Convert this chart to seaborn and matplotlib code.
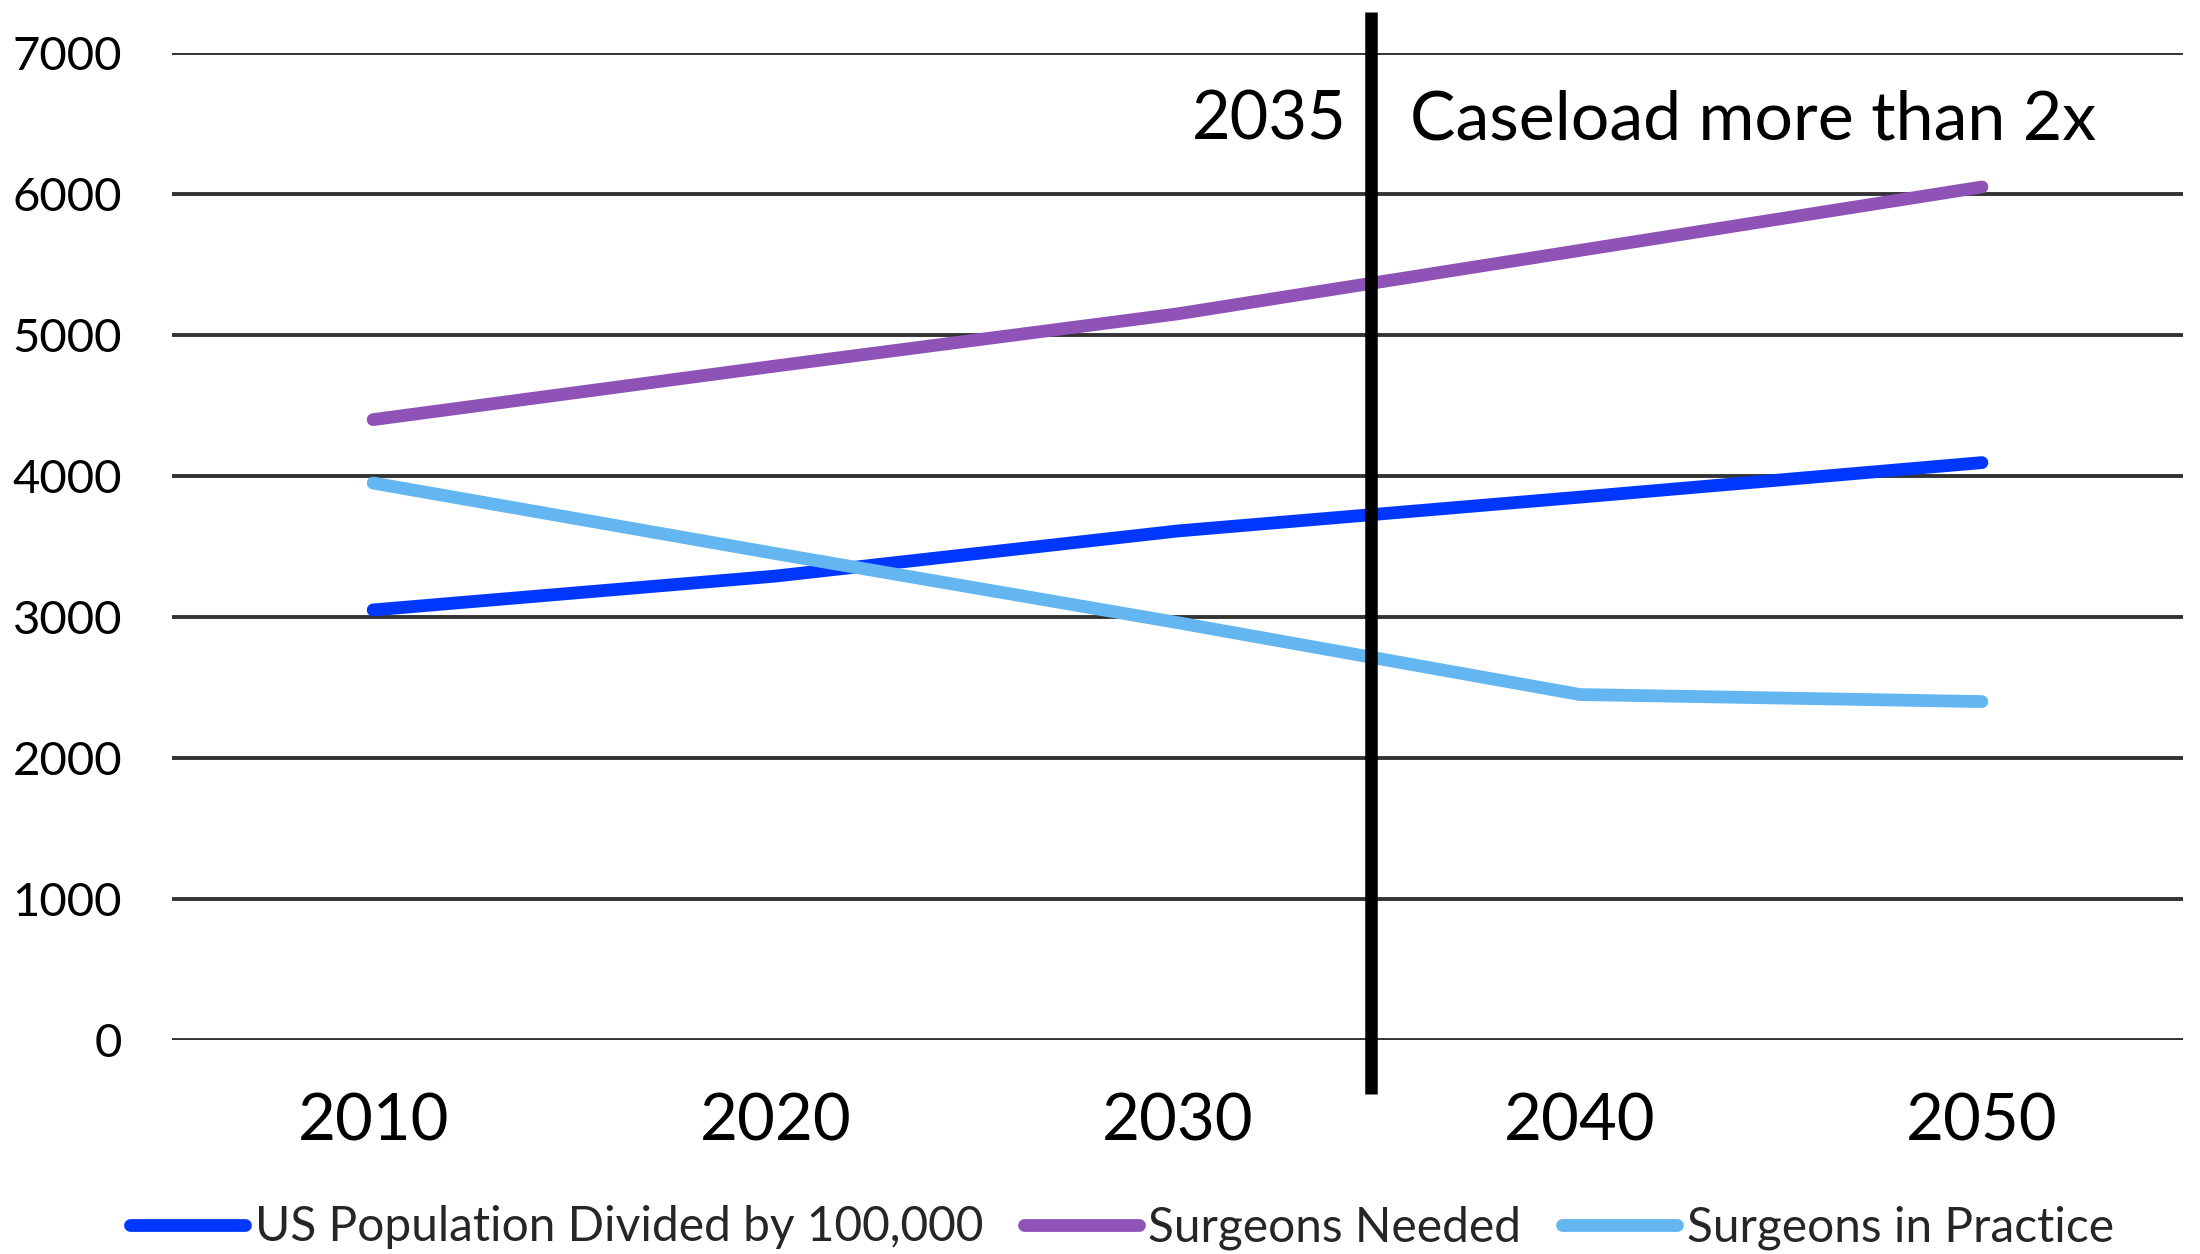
import matplotlib
matplotlib.use("Agg")
import matplotlib.pyplot as plt
import seaborn as sns
import pandas as pd

# Projection data
years = ["2010", "2020", "2030", "2040", "2050"]
us_population = [3050, 3290, 3610, 3850, 4095]
surgeons_needed = [4400, 4780, 5150, 5600, 6050]
surgeons_in_practice = [3950, 3450, 2960, 2450, 2400]

series_names = ["US Population Divided by 100,000", "Surgeons Needed", "Surgeons in Practice"]
series_colors = ["#0037FF", "#8F52B6", "#63B6F0"]
y_ticks = [0, 1000, 2000, 3000, 4000, 5000, 6000, 7000]

df = pd.concat([
    pd.DataFrame({"year": years, "value": vals, "series": name})
    for name, vals in zip(series_names, [us_population, surgeons_needed, surgeons_in_practice])
], ignore_index=True)

sns.set_theme(style="white")
plt.rcParams["font.family"] = ["Lato", "DejaVu Sans"]

fig = plt.figure(figsize=(22, 12.54), dpi=100)
ax = fig.add_axes([0.0782, 0.1707, 0.9141, 0.787])

sns.lineplot(data=df, x="year", y="value", hue="series", hue_order=series_names,
             palette=dict(zip(series_names, series_colors)), linewidth=9.2,
             sort=False, legend=False, ax=ax, zorder=3)
for ln in ax.lines:
    ln.set_solid_capstyle("round")

ax.set_xlim(-0.5, 4.5)
ax.set_ylim(0, 7000)
ax.set_yticks(y_ticks)
ax.set_yticklabels([str(t) for t in y_ticks])
ax.yaxis.grid(True, color="#333333", linewidth=2.8)
ax.xaxis.grid(False)
ax.set_axisbelow(True)
for s in ax.spines.values():
    s.set_visible(False)
ax.tick_params(axis="y", length=0, pad=36, labelsize=34, colors="black")
ax.tick_params(axis="x", length=0, pad=38, labelsize=47, colors="black")
ax.set_xlabel("")
ax.set_ylabel("")

# 2035 marker between the 2030 and 2040 categories
ax.plot([2.48, 2.48], [-385, 7290], color="black", linewidth=9,
        solid_capstyle="butt", clip_on=False, zorder=5)
ax.text(2.42, 6520, "2035", ha="right", va="center", fontsize=48, color="black")
ax.text(2.577, 6520, "Caseload more than 2x", ha="left", va="center", fontsize=49, color="black")

fig.legend(handles=ax.lines[:3], labels=series_names, loc="center",
           bbox_to_anchor=(0.51, 0.021), ncol=3, frameon=False, fontsize=34.5,
           handlelength=2.4, handletextpad=0.2, columnspacing=0.85,
           borderaxespad=0, borderpad=0)

fig.savefig("out.png", dpi=100)
